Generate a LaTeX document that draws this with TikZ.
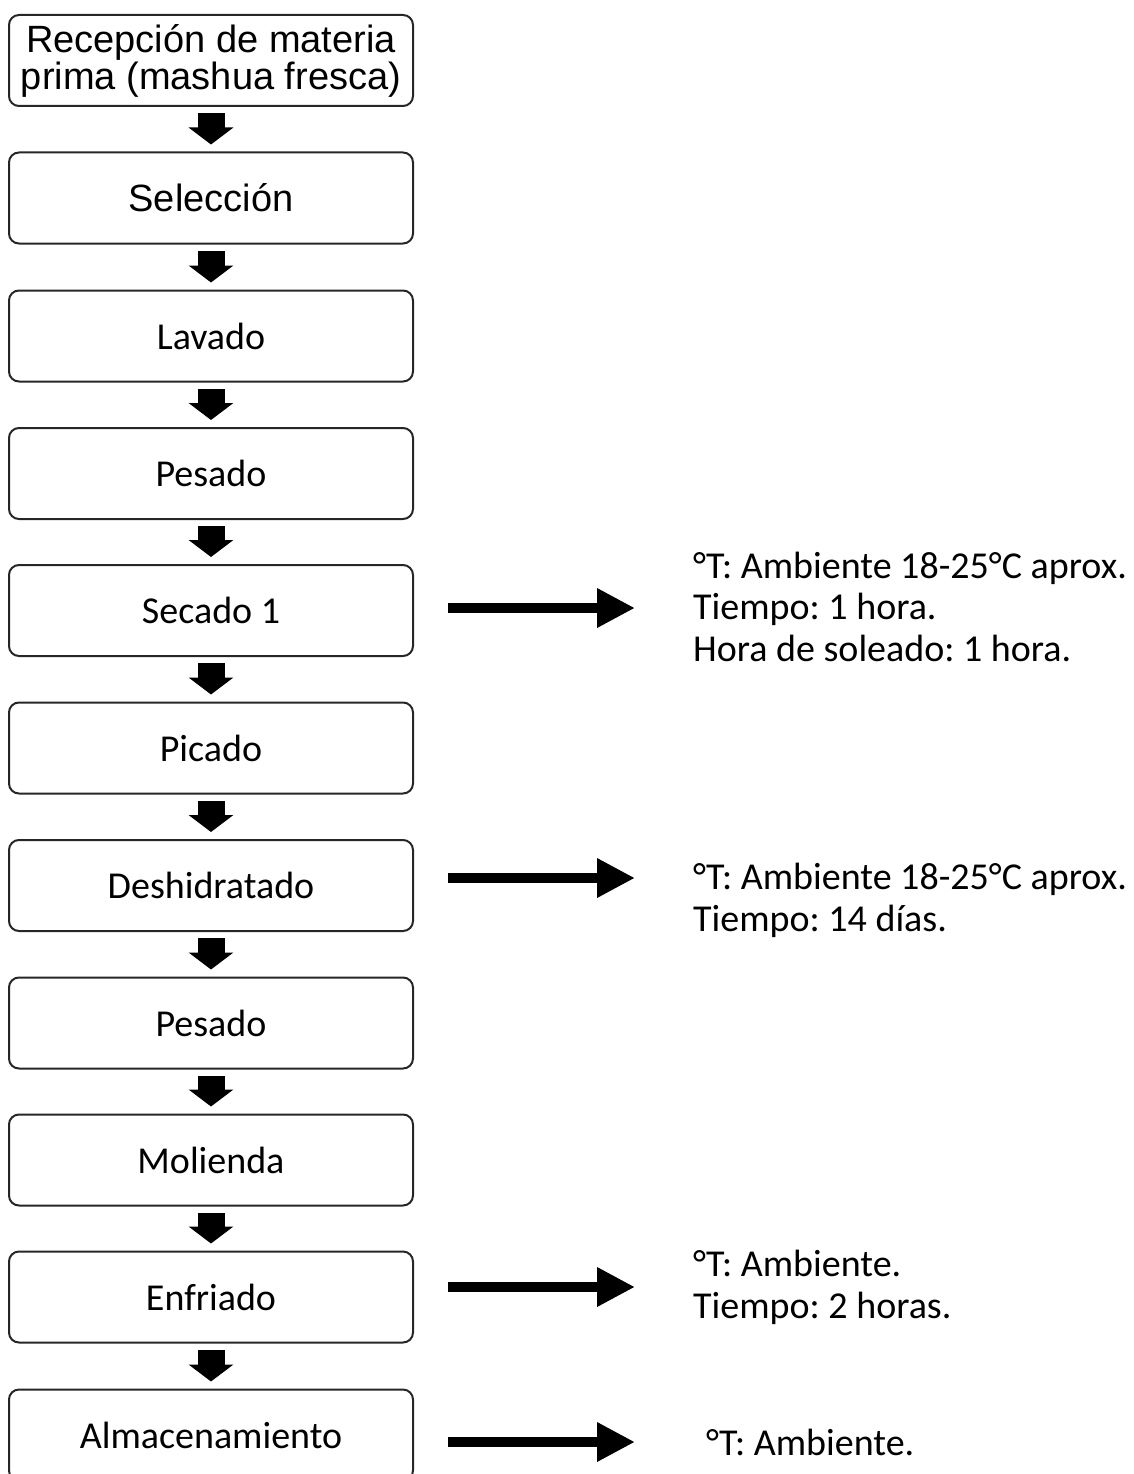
\documentclass[tikz,border=0pt]{standalone}
\usepackage{fontspec}
\setmainfont{Carlito}
\newfontfamily\arialfont{Liberation Sans}
\usetikzlibrary{arrows.meta}
\frenchspacing
\tikzset{
	stepbox/.style={draw=black!85,line width=2pt,rounded corners=10pt,minimum width=404pt,minimum height=91pt,inner sep=0pt,align=center,font=\fontsize{38}{37}\selectfont},
	downarr/.style={line width=27pt,-{Triangle[length=17pt,width=44pt]}},
	rightarr/.style={line width=10pt,-{Triangle[length=38pt,width=37pt]}},
	info/.style={anchor=base west,align=left,inner sep=0pt,font=\fontsize{38}{41.5}\selectfont}
}
\begin{document}
\begin{tikzpicture}[x=1pt,y=-1pt]
		\useasboundingbox (0,0) rectangle (1134,1474);
		% etapas del proceso
		\node[stepbox,font=\arialfont\fontsize{38}{37}\selectfont] (recep) at (211,60.5) {Recepción de materia\\prima (mashua fresca)};
		\node[stepbox,font=\arialfont\fontsize{38}{37}\selectfont] (selec) at (211,198) {Selección};
		\node[stepbox] (lavado) at (211,336) {Lavado};
		\node[stepbox] (pesado1) at (211,473.5) {Pesado};
		\node[stepbox] (secado) at (211,610.5) {Secado 1};
		\node[stepbox] (picado) at (211,748) {Picado};
		\node[stepbox] (deshid) at (211,885.5) {Deshidratado};
		\node[stepbox] (pesado2) at (211,1023) {Pesado};
		\node[stepbox] (molienda) at (211,1160) {Molienda};
		\node[stepbox] (enfriado) at (211,1297) {Enfriado};
		\node[stepbox] (almacen) at (211,1435) {Almacenamiento};
		
		\draw[downarr] ([yshift=-6pt]recep.south) -- ([yshift=7pt]selec.north);
		\draw[downarr] ([yshift=-6pt]selec.south) -- ([yshift=7pt]lavado.north);
		\draw[downarr] ([yshift=-6pt]lavado.south) -- ([yshift=7pt]pesado1.north);
		\draw[downarr] ([yshift=-6pt]pesado1.south) -- ([yshift=7pt]secado.north);
		\draw[downarr] ([yshift=-6pt]secado.south) -- ([yshift=7pt]picado.north);
		\draw[downarr] ([yshift=-6pt]picado.south) -- ([yshift=7pt]deshid.north);
		\draw[downarr] ([yshift=-6pt]deshid.south) -- ([yshift=7pt]pesado2.north);
		\draw[downarr] ([yshift=-6pt]pesado2.south) -- ([yshift=7pt]molienda.north);
		\draw[downarr] ([yshift=-6pt]molienda.south) -- ([yshift=7pt]enfriado.north);
		\draw[downarr] ([yshift=-6pt]enfriado.south) -- ([yshift=7pt]almacen.north);
		
		% condiciones (base = ultima linea)
		\node[info] (tsecado) at (693,661) {°T: Ambiente 18-25°C aprox.\\Tiempo: 1 hora.\\Hora de soleado: 1 hora.};
		\node[info] (tdeshid) at (693,931) {°T: Ambiente 18-25°C aprox.\\Tiempo: 14 días.};
		\node[info] (tenfriado) at (693,1318) {°T: Ambiente.\\Tiempo: 2 horas.};
		\node[info] (talmacen) at (706,1455) {°T: Ambiente.};
		
		\coordinate (psecado) at (635,608);
		\coordinate (pdeshid) at (635,878);
		\coordinate (penfriado) at (635,1287);
		\coordinate (palmacen) at (635,1442);
		\draw[rightarr] ([xshift=34pt]secado.east |- psecado) -- (psecado);
		\draw[rightarr] ([xshift=34pt]deshid.east |- pdeshid) -- (pdeshid);
		\draw[rightarr] ([xshift=34pt]enfriado.east |- penfriado) -- (penfriado);
		\draw[rightarr] ([xshift=34pt]almacen.east |- palmacen) -- (palmacen);
	\end{tikzpicture}
\end{document}
